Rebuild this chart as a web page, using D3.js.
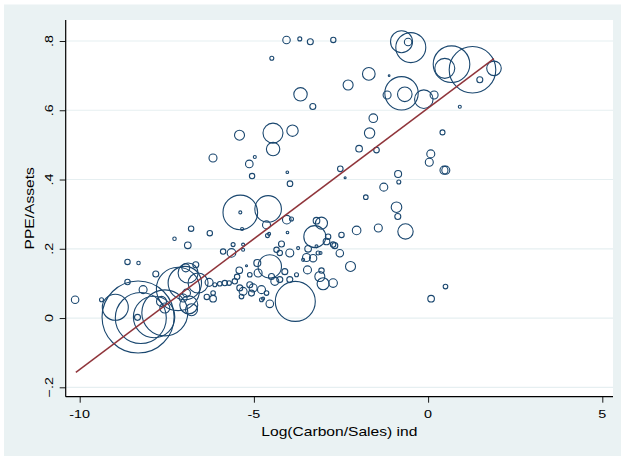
<!DOCTYPE html>
<html><head><meta charset="utf-8">
<script src="https://cdn.jsdelivr.net/npm/d3@7/dist/d3.min.js"></script>
<style>body{margin:0;background:#fff}svg{display:block}text{font-family:"Liberation Sans",Arial,sans-serif;fill:#000}</style>
</head><body><svg id="c" width="621" height="456"></svg>
<script>
const xVals = [-4.064,-3.683,-3.381,-2.721,-4.486,-3.662,-3.309,-0.763,-0.497,-0.574,-1.702,-2.296,-1.119,-0.763,-0.669,-1.177,-0.123,0.172,0.672,0.479,1.274,1.891,1.484,0.910,-1.573,-1.679,0.413,-5.413,-4.452,-3.892,-4.449,-6.174,-5.132,-4.974,-5.052,-4.041,-3.964,-2.520,-2.382,-1.981,-1.481,0.077,0.034,0.456,0.508,-0.861,-0.841,-1.272,-1.788,-0.907,-0.870,-5.390,-5.390,-4.592,-5.339,-4.638,-4.056,-3.921,-3.203,-3.060,-6.266,-4.036,-4.564,-3.252,-2.486,-2.052,-1.429,-0.649,-2.227,0.086,0.499,-2.534,-2.916,-2.870,-2.727,-4.610,-4.208,-4.351,-4.257,-3.970,-3.731,-3.444,-3.490,-3.301,-3.157,-3.462,-4.544,-4.400,-4.257,-4.495,-3.970,-3.777,-4.113,-3.060,-3.108,-3.014,-2.727,-3.812,-4.544,-4.638,-3.588,-3.203,-3.088,-2.678,-5.884,-5.597,-5.643,-5.310,-5.310,-6.122,-5.979,-5.835,-5.712,-5.548,-6.171,-6.171,-6.352,-5.419,-5.482,-5.118,-4.902,-4.879,-5.405,-5.310,-5.118,-5.023,-5.069,-4.782,-4.782,-5.356,-5.212,-4.736,-6.286,-10.132,-9.374,-8.628,-8.312,-8.628,-7.816,-8.180,-7.279,-6.802,-6.897,-8.341,-8.324,-8.246,-7.865,-7.557,-8.978,-7.176,-6.983,-6.889,-6.602,-6.869,-7.652,-7.557,-7.032,-6.935,-6.791,-6.955,-6.668];
const yVals = [0.803,0.806,0.798,0.803,0.750,0.646,0.611,0.798,0.781,0.797,0.705,0.673,0.700,0.649,0.646,0.644,0.632,0.644,0.733,0.721,0.717,0.721,0.688,0.610,0.577,0.534,0.536,0.528,0.534,0.541,0.488,0.462,0.445,0.465,0.410,0.421,0.388,0.431,0.405,0.489,0.485,0.474,0.450,0.427,0.427,0.416,0.393,0.378,0.349,0.320,0.293,0.305,0.305,0.315,0.257,0.269,0.284,0.286,0.281,0.274,0.245,0.247,0.243,0.235,0.240,0.253,0.260,0.250,0.149,0.056,0.091,0.187,0.221,0.235,0.212,0.238,0.214,0.197,0.188,0.188,0.202,0.200,0.175,0.173,0.188,0.139,0.149,0.106,0.111,0.120,0.111,0.125,0.134,0.137,0.120,0.099,0.101,0.048,0.041,0.072,0.168,0.207,0.188,0.209,0.192,0.212,0.188,0.212,0.197,0.096,0.099,0.101,0.101,0.106,0.072,0.056,0.061,0.138,0.119,0.125,0.159,0.130,0.087,0.077,0.096,0.087,0.072,0.082,0.053,0.062,0.151,0.056,0.103,0.053,0.053,0.162,0.159,0.104,0.127,0.082,0.229,0.258,0.210,0.002,0.003,0.000,0.003,0.015,0.031,0.084,0.101,0.130,0.101,0.038,0.048,0.029,0.058,0.072,0.024,0.145,0.154];
const weights = [14,4,9,7,4,45,9,121,225,14,40,25,0.7,279,53,16,86,16,335,100,543,53,9,2.25,18.5,27,6.25,25,100,32.5,45,16,14.4,2.25,7.3,1.7,7.8,7.8,1,11,7.8,16,16,16,16,12.25,4,16,5.3,28,9,300,2.25,177,2.25,16,18.5,4,11,36,7.3,1.7,2.25,121,7.3,18.5,16,59,25,11,5.3,14,11,7.3,7.3,4,9,7.3,7.3,16,2.25,11,16,13.7,4,16,137,16,9,9,9,4,9,7.3,25,36,18.5,400,14.4,5.3,2.25,2.25,2.25,9,7.3,4,18.5,2.25,2.25,4,5.3,7.3,5.3,7.3,5.3,11,7.3,11,7.3,5.3,12.25,16,9,16,9,16,9,16,4,5.3,1,2.25,16,14,4,7.3,3,7.3,9,16,3,7.3,11,9,1300,650,428,529,169,471,279,100,100,81,25,25,16,16,36,16,9];
const fitX = [-10.11, 1.89];
const fitY = [-0.157, 0.749];
const xTicks = [-10, -5, 0, 5];
const yTicks = [-0.2, 0, 0.2, 0.4, 0.6, 0.8];
const xTitle = "Log(Carbon/Sales) ind";
const yTitle = "PPE/Assets";

const svg = d3.select("#c");
const NAVY = "#1a476f", MAROON = "#90353b", BG = "#eaf2f3", GRID = "#e6eff1";
const P = {l: 65.7, r: 613, t: 20, b: 396.7};
const x = d3.scaleLinear().domain([-10, 5]).range([79.7, 602.3]);
const y = d3.scaleLinear().domain([-0.2, 0.8]).range([387.3, 41]);
const rs = d3.scaleSqrt().domain([0, 1300]).range([0, Math.sqrt(1300)]);

svg.append("rect").attr("x", 4).attr("y", 4.5).attr("width", 617).attr("height", 452).attr("fill", BG);
svg.append("rect").attr("x", P.l).attr("y", P.t).attr("width", P.r - P.l).attr("height", P.b - P.t).attr("fill", "#fff");

// gridlines
svg.append("g").selectAll("line").data(yTicks).join("line")
  .attr("x1", P.l).attr("x2", P.r).attr("y1", d => y(d)).attr("y2", d => y(d))
  .attr("stroke", GRID).attr("stroke-width", 1.2);

// axes (ticks)
const fmtY = d => d === 0 ? "0" : d3.format(".1f")(d).replace("0.", ".");
const gy = svg.append("g").attr("transform", `translate(${P.l},0)`)
  .call(d3.axisLeft(y).tickValues(yTicks).tickSize(6).tickSizeOuter(0).tickFormat(""));
const gx = svg.append("g").attr("transform", `translate(0,${P.b})`)
  .call(d3.axisBottom(x).tickValues(xTicks).tickSize(6).tickSizeOuter(0).tickFormat(""));
[gy, gx].forEach(g => { g.select(".domain").remove(); g.selectAll("line").attr("stroke", "#000").attr("stroke-width", 0.9); });
svg.append("line").attr("x1", P.l).attr("x2", P.l).attr("y1", P.t).attr("y2", P.b).attr("stroke", "#000").attr("stroke-width", 1.2);
svg.append("line").attr("x1", P.l).attr("x2", P.r).attr("y1", P.b).attr("y2", P.b).attr("stroke", "#000").attr("stroke-width", 1.2);

// labels
const SX = 1.25;
xTicks.forEach(t => {
  svg.append("g").attr("transform", `translate(${x(t)},418.3)`)
    .append("text").attr("transform", `scale(${SX},1)`).attr("text-anchor", "middle")
    .attr("font-size", 11.5).text(t);
});
yTicks.forEach(t => {
  svg.append("g").attr("transform", `translate(53.3,${y(t)}) rotate(-90)`)
    .append("text").attr("transform", `scale(${SX},1)`).attr("text-anchor", "middle")
    .attr("font-size", 11.5).text(fmtY(t));
});
svg.append("g").attr("transform", `translate(${(P.l + P.r) / 2},436)`)
  .append("text").attr("transform", `scale(${SX},1)`).attr("text-anchor", "middle")
  .attr("font-size", 12.5).text(xTitle);
svg.append("g").attr("transform", `translate(33.5,${(P.t + P.b) / 2}) rotate(-90)`)
  .append("text").attr("transform", `scale(${SX},1)`).attr("text-anchor", "middle")
  .attr("font-size", 12.5).text(yTitle);

// bubbles
const pts = xVals.map((v, i) => ({x: v, y: yVals[i], w: weights[i]}));
svg.append("g").selectAll("circle").data(pts).join("circle")
  .attr("cx", d => x(d.x)).attr("cy", d => y(d.y)).attr("r", d => rs(d.w))
  .attr("fill", "none").attr("stroke", NAVY).attr("stroke-width", 1.1);

// fitted line
const fit = fitX.map((v, i) => [v, fitY[i]]);
svg.append("path").datum(fit)
  .attr("d", d3.line().x(d => x(d[0])).y(d => y(d[1])))
  .attr("stroke", MAROON).attr("stroke-width", 1.5).attr("fill", "none");
</script></body></html>
